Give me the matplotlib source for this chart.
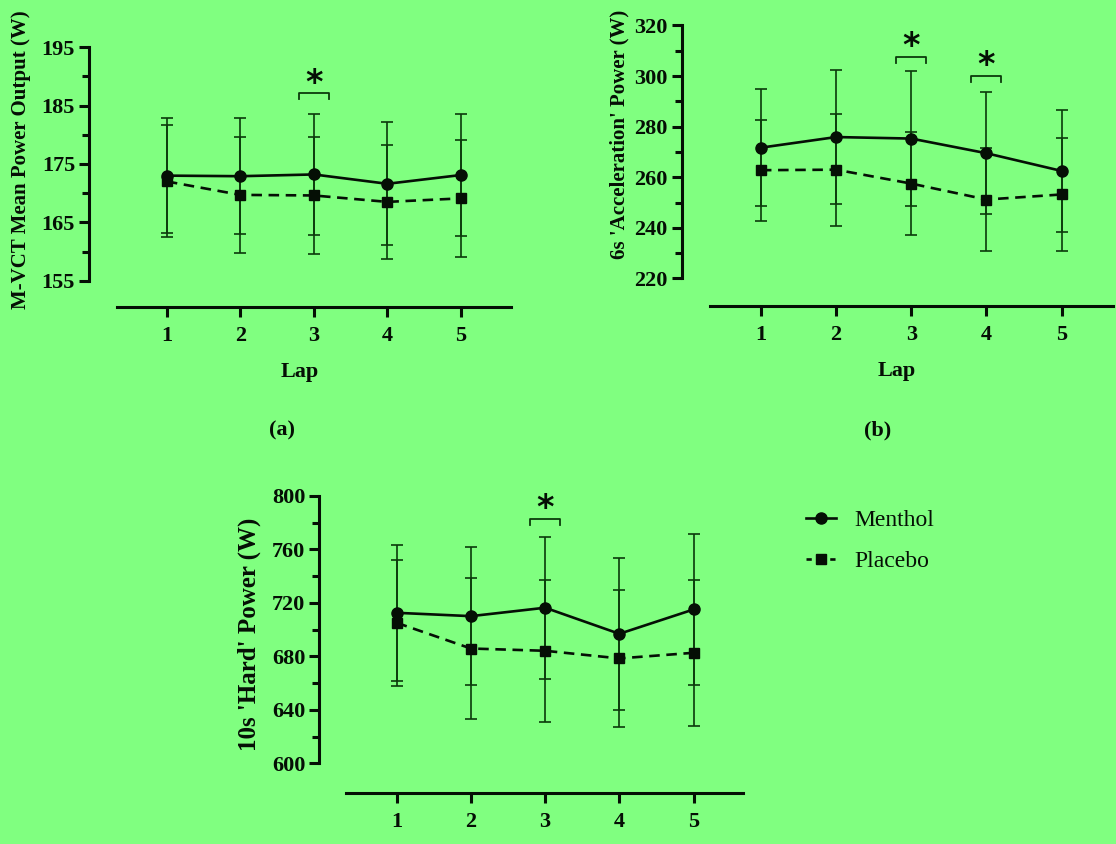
import matplotlib
matplotlib.use("Agg")
import matplotlib.pyplot as plt
from matplotlib.lines import Line2D

BG = "#80ff80"
ERR = "#0b3a0b"
INK = "#050f05"

plt.rcParams["font.family"] = ["Liberation Serif", "DejaVu Serif"]

laps = [1, 2, 3, 4, 5]

# (a) M-VCT mean power output
mvct_menthol = [173.0, 172.9, 173.2, 171.6, 173.1]
mvct_menthol_sd = [9.8, 9.9, 10.3, 10.5, 10.4]
mvct_placebo = [172.0, 169.7, 169.6, 168.5, 169.1]
mvct_placebo_sd = [9.6, 10.0, 10.0, 9.8, 10.0]
mvct_sig = [3]
mvct_sig_y = [187.1]

# (b) 6s acceleration power
acc_menthol = [271.7, 275.9, 275.3, 269.5, 262.5]
acc_menthol_sd = [23.0, 26.5, 26.7, 24.2, 24.0]
acc_placebo = [262.8, 263.0, 257.5, 251.2, 253.2]
acc_placebo_sd = [20.0, 22.2, 20.5, 20.2, 22.2]
acc_sig = [3, 4]
acc_sig_y = [307.6, 300.1]

# (c) 10s hard power
hard_menthol = [712.5, 710.0, 716.3, 696.8, 715.0]
hard_menthol_sd = [51.0, 51.6, 53.0, 57.0, 56.4]
hard_placebo = [705.0, 685.8, 684.1, 678.4, 682.6]
hard_placebo_sd = [47.0, 52.8, 53.0, 51.0, 54.5]
hard_sig = [3]
hard_sig_y = [782.8]


def draw_panel(ax, menthol, menthol_sd, placebo, placebo_sd, sig, sig_y,
               ylim, ybounds, major, ylabel, label_size, xlim, show_lap=True):
    ax.set_facecolor(BG)
    ax.errorbar(laps, menthol, yerr=menthol_sd, fmt="none", ecolor=ERR,
                elinewidth=1.2, capsize=4, capthick=1.2, zorder=2)
    ax.errorbar(laps, placebo, yerr=placebo_sd, fmt="none", ecolor=ERR,
                elinewidth=1.2, capsize=4, capthick=1.2, zorder=2)
    ax.plot(laps, menthol, color=INK, lw=1.9, marker="o", ms=8,
            label="Menthol", zorder=3)
    ax.plot(laps, placebo, color=INK, lw=1.9, marker="s", ms=7.5,
            dashes=(4, 2.5), label="Placebo", zorder=3)

    # significance brackets
    span = ybounds[1] - ybounds[0]
    for lap, y in zip(sig, sig_y):
        drop = span * 0.025
        ax.plot([lap - 0.2, lap - 0.2, lap + 0.2, lap + 0.2],
                [y - drop, y, y, y - drop], color=ERR, lw=1.3)
        ax.text(lap, y + span * 0.04, "*", ha="center", va="center",
                fontsize=24, fontweight="bold", color=INK,
                family="DejaVu Sans")

    ax.set_xlim(xlim)
    ax.set_ylim(ylim)
    ax.set_xticks(laps)
    ax.set_yticks(range(ybounds[0], ybounds[1] + 1, major))
    ax.set_yticks([v + major / 2 for v in range(ybounds[0], ybounds[1], major)],
                  minor=True)

    for s in ["top", "right"]:
        ax.spines[s].set_visible(False)
    ax.spines["left"].set_bounds(ybounds[0], ybounds[1])
    ax.spines["bottom"].set_bounds(0.32, xlim[1])
    for s in ["left", "bottom"]:
        ax.spines[s].set_linewidth(2.2)
        ax.spines[s].set_color(INK)

    ax.tick_params(axis="both", which="major", length=7, width=2.2,
                   color=INK, labelsize=16, labelcolor=INK, pad=3)
    ax.tick_params(axis="x", which="major", pad=7)
    ax.tick_params(axis="y", which="minor", length=5, width=2.2, color=INK)
    for lab in ax.get_xticklabels() + ax.get_yticklabels():
        lab.set_fontweight("bold")

    ax.set_ylabel(ylabel, fontsize=label_size, fontweight="bold", color=INK)
    if show_lap:
        ax.set_xlabel("Lap", fontsize=16, fontweight="bold", color=INK,
                      labelpad=11)


fig = plt.figure(figsize=(11.16, 8.44), dpi=100)
fig.patch.set_facecolor(BG)

ax_a = fig.add_axes([0.0797, 0.6363, 0.378, 0.3147])
ax_b = fig.add_axes([0.6108, 0.6374, 0.3863, 0.3354])
ax_c = fig.add_axes([0.2861, 0.0608, 0.3799, 0.3597])

draw_panel(ax_a, mvct_menthol, mvct_menthol_sd, mvct_placebo, mvct_placebo_sd,
           mvct_sig, mvct_sig_y, (150.5, 196), (155, 195), 10,
           "M-VCT Mean Power Output (W)", 15, (-0.06, 5.68))
draw_panel(ax_b, acc_menthol, acc_menthol_sd, acc_placebo, acc_placebo_sd,
           acc_sig, acc_sig_y, (209.1, 321), (220, 320), 20,
           "6s 'Acceleration' Power (W)", 15, (-0.054, 5.68))
draw_panel(ax_c, hard_menthol, hard_menthol_sd, hard_placebo, hard_placebo_sd,
           hard_sig, hard_sig_y, (578, 805), (600, 800), 40,
           "10s 'Hard' Power (W)", 18, (-0.044, 5.67), show_lap=False)

ax_a.yaxis.set_label_coords(-0.1375, 0.553)
ax_b.yaxis.set_label_coords(-0.12, 0.608)
ax_c.yaxis.set_label_coords(-0.1375, 0.523)

fig.text(0.2527, 0.4895, "(a)", ha="center", va="center", fontsize=16,
         fontweight="bold", color=INK)
fig.text(0.7867, 0.4895, "(b)", ha="center", va="center", fontsize=16,
         fontweight="bold", color=INK)

handles = [
    Line2D([], [], color=INK, lw=1.9, marker="o", ms=8),
    Line2D([], [], color=INK, lw=1.9, marker="s", ms=7.5, dashes=(2, 2.5)),
]
fig.legend(handles, ["Menthol", "Placebo"], loc="upper left",
           bbox_to_anchor=(0.703, 0.421), frameon=False, fontsize=17,
           handlelength=1.3, handletextpad=0.75, labelspacing=0.8,
           labelcolor=INK)

fig.savefig("out.png", dpi=100, facecolor=BG)
